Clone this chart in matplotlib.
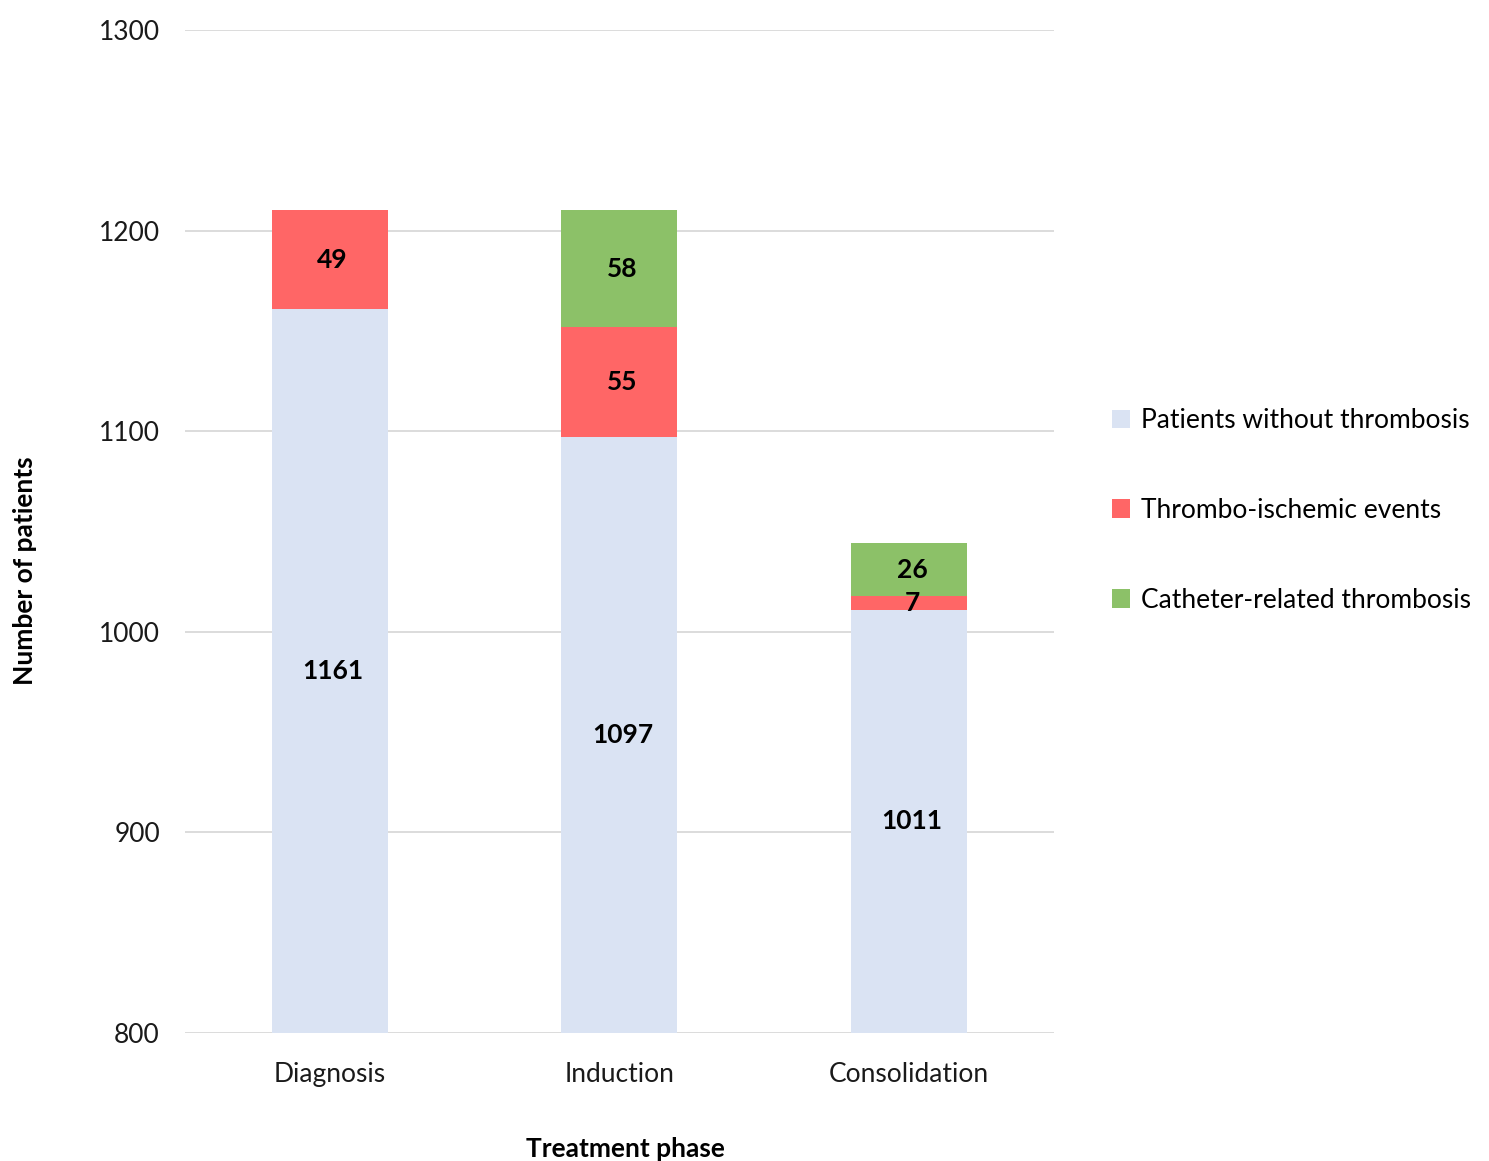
import matplotlib.pyplot as plt
import numpy as np

plt.rcParams['font.family'] = ['Lato', 'DejaVu Sans']

phases = ['Diagnosis', 'Induction', 'Consolidation']
no_thrombosis = [1161, 1097, 1011]
thrombo_ischemic = [49, 55, 7]
catheter_related = [0, 58, 26]

series = [
    ('Patients without thrombosis', no_thrombosis, '#DAE3F3'),
    ('Thrombo-ischemic events', thrombo_ischemic, '#FF6666'),
    ('Catheter-related thrombosis', catheter_related, '#8CC168'),
]

fig = plt.figure(figsize=(14.89, 11.61), dpi=100)
ax = fig.add_axes([0.1242, 0.1103, 0.5836, 0.8639])

x = np.arange(len(phases))
ymin = 800
bottom = np.zeros(len(phases))
for name, vals, color in series:
    vals = np.array(vals, dtype=float)
    ax.bar(x, vals, width=0.4, bottom=bottom, color=color, label=name, zorder=2)
    for xi, b, v in zip(x, bottom, vals):
        if v <= 0:
            continue
        lo = max(b, ymin)
        mid = (lo + b + v) / 2
        ax.text(xi + 0.01, mid, f'{int(v)}', ha='center', va='center',
                fontsize=19, fontweight='bold', color='black', zorder=3)
    bottom += vals

ax.set_ylim(800, 1300)
ax.set_xlim(-0.5, 2.5)
ax.set_yticks(range(800, 1301, 100))
ax.set_xticks(x)
ax.set_xticklabels(phases)
ax.tick_params(axis='both', length=0, labelsize=19, colors='#1a1a1a')
ax.tick_params(axis='x', pad=21)
ax.tick_params(axis='y', pad=18)
ax.yaxis.grid(True, color='#D9D9D9', linewidth=1.3, zorder=0)
for s in ax.spines.values():
    s.set_visible(False)

# axis titles placed in figure coords
fig.text(25 / 1489, 1 - 571 / 1161, 'Number of patients', rotation=90,
         ha='center', va='center', fontsize=19, fontweight='bold')
fig.text(625 / 1489, 0.010, 'Treatment phase', ha='center', va='center',
         fontsize=19, fontweight='bold')

ax.legend(loc='center left', bbox_to_anchor=(1.039, 0.521), frameon=False,
          fontsize=19, handlelength=0.7, handleheight=0.7, handletextpad=0.4,
          labelspacing=2.45)

fig.savefig('out.png', dpi=100)
